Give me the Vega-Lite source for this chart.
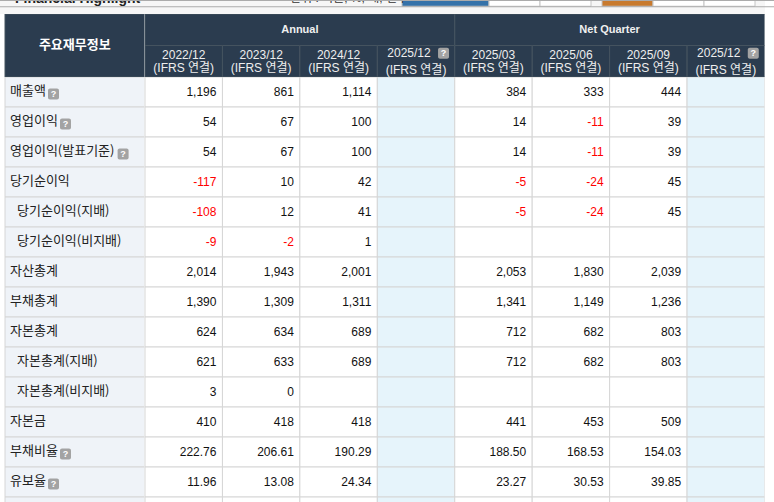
{"$schema":"https://vega.github.io/schema/vega-lite/v6.json","padding":0,"background":"#ffffff","spacing":0,"config":{"view":{"stroke":null},"scale":{"bandPaddingInner":0,"bandPaddingOuter":0},"concat":{"spacing":0},"text":{"font":"Liberation Sans, Noto Sans CJK KR"},"locale":{"number":{"decimal":".","thousands":",","grouping":[3],"currency":["$",""],"minus":"-"}}},"datasets":{"strip":[{"seg":"lead","w":15,"i":0},{"seg":"title","w":275,"i":1,"text":"Financial Highlight"},{"seg":"unit","w":112,"i":2,"text":"단위 : 억원, %, 배, 천주"},{"seg":"blue","w":87,"i":3},{"seg":"tab","w":51,"i":4},{"seg":"tab","w":51,"i":5},{"seg":"gap","w":11,"i":6},{"seg":"orange","w":51,"i":7},{"seg":"tab","w":51,"i":8},{"seg":"tab","w":51,"i":9},{"seg":"end","w":10,"i":10}],"edges":[{"band":"tab","edge":"top"},{"band":"rest","edge":"bottom"}],"groups":[{"group":"Annual"},{"group":"Net Quarter"}],"periods":[{"col":"2022/12","period":"2022/12","basis":"(IFRS 연결)","estimate":false},{"col":"2023/12","period":"2023/12","basis":"(IFRS 연결)","estimate":false},{"col":"2024/12","period":"2024/12","basis":"(IFRS 연결)","estimate":false},{"col":"2025/12 A","period":"2025/12","basis":"(IFRS 연결)","estimate":true},{"col":"2025/03","period":"2025/03","basis":"(IFRS 연결)","estimate":false},{"col":"2025/06","period":"2025/06","basis":"(IFRS 연결)","estimate":false},{"col":"2025/09","period":"2025/09","basis":"(IFRS 연결)","estimate":false},{"col":"2025/12 Q","period":"2025/12","basis":"(IFRS 연결)","estimate":true}],"labels":[{"row":"매출액","label":"매출액","start":0,"labelLen":3,"help":true},{"row":"영업이익","label":"영업이익","start":0,"labelLen":4,"help":true},{"row":"영업이익(발표기준)","label":"영업이익(발표기준)","start":0,"labelLen":8.8,"help":true},{"row":"당기순이익","label":"당기순이익","start":0,"help":false},{"row":"당기순이익(지배)","label":"당기순이익(지배)","start":0.583,"help":false},{"row":"당기순이익(비지배)","label":"당기순이익(비지배)","start":0.583,"help":false},{"row":"자산총계","label":"자산총계","start":0,"help":false},{"row":"부채총계","label":"부채총계","start":0,"help":false},{"row":"자본총계","label":"자본총계","start":0,"help":false},{"row":"자본총계(지배)","label":"자본총계(지배)","start":0.583,"help":false},{"row":"자본총계(비지배)","label":"자본총계(비지배)","start":0.583,"help":false},{"row":"자본금","label":"자본금","start":0,"help":false},{"row":"부채비율","label":"부채비율","start":0,"labelLen":4,"help":true},{"row":"유보율","label":"유보율","start":0,"labelLen":3,"help":true},{"row":"next","label":"","start":0,"help":false}],"cells":[
{"row":"매출액","col":"2022/12","value":1196},{"row":"매출액","col":"2023/12","value":861},{"row":"매출액","col":"2024/12","value":1114},{"row":"매출액","col":"2025/12 A","value":null},{"row":"매출액","col":"2025/03","value":384},{"row":"매출액","col":"2025/06","value":333},{"row":"매출액","col":"2025/09","value":444},{"row":"매출액","col":"2025/12 Q","value":null},
{"row":"영업이익","col":"2022/12","value":54},{"row":"영업이익","col":"2023/12","value":67},{"row":"영업이익","col":"2024/12","value":100},{"row":"영업이익","col":"2025/12 A","value":null},{"row":"영업이익","col":"2025/03","value":14},{"row":"영업이익","col":"2025/06","value":-11},{"row":"영업이익","col":"2025/09","value":39},{"row":"영업이익","col":"2025/12 Q","value":null},
{"row":"영업이익(발표기준)","col":"2022/12","value":54},{"row":"영업이익(발표기준)","col":"2023/12","value":67},{"row":"영업이익(발표기준)","col":"2024/12","value":100},{"row":"영업이익(발표기준)","col":"2025/12 A","value":null},{"row":"영업이익(발표기준)","col":"2025/03","value":14},{"row":"영업이익(발표기준)","col":"2025/06","value":-11},{"row":"영업이익(발표기준)","col":"2025/09","value":39},{"row":"영업이익(발표기준)","col":"2025/12 Q","value":null},
{"row":"당기순이익","col":"2022/12","value":-117},{"row":"당기순이익","col":"2023/12","value":10},{"row":"당기순이익","col":"2024/12","value":42},{"row":"당기순이익","col":"2025/12 A","value":null},{"row":"당기순이익","col":"2025/03","value":-5},{"row":"당기순이익","col":"2025/06","value":-24},{"row":"당기순이익","col":"2025/09","value":45},{"row":"당기순이익","col":"2025/12 Q","value":null},
{"row":"당기순이익(지배)","col":"2022/12","value":-108},{"row":"당기순이익(지배)","col":"2023/12","value":12},{"row":"당기순이익(지배)","col":"2024/12","value":41},{"row":"당기순이익(지배)","col":"2025/12 A","value":null},{"row":"당기순이익(지배)","col":"2025/03","value":-5},{"row":"당기순이익(지배)","col":"2025/06","value":-24},{"row":"당기순이익(지배)","col":"2025/09","value":45},{"row":"당기순이익(지배)","col":"2025/12 Q","value":null},
{"row":"당기순이익(비지배)","col":"2022/12","value":-9},{"row":"당기순이익(비지배)","col":"2023/12","value":-2},{"row":"당기순이익(비지배)","col":"2024/12","value":1},{"row":"당기순이익(비지배)","col":"2025/12 A","value":null},{"row":"당기순이익(비지배)","col":"2025/03","value":null},{"row":"당기순이익(비지배)","col":"2025/06","value":null},{"row":"당기순이익(비지배)","col":"2025/09","value":null},{"row":"당기순이익(비지배)","col":"2025/12 Q","value":null},
{"row":"자산총계","col":"2022/12","value":2014},{"row":"자산총계","col":"2023/12","value":1943},{"row":"자산총계","col":"2024/12","value":2001},{"row":"자산총계","col":"2025/12 A","value":null},{"row":"자산총계","col":"2025/03","value":2053},{"row":"자산총계","col":"2025/06","value":1830},{"row":"자산총계","col":"2025/09","value":2039},{"row":"자산총계","col":"2025/12 Q","value":null},
{"row":"부채총계","col":"2022/12","value":1390},{"row":"부채총계","col":"2023/12","value":1309},{"row":"부채총계","col":"2024/12","value":1311},{"row":"부채총계","col":"2025/12 A","value":null},{"row":"부채총계","col":"2025/03","value":1341},{"row":"부채총계","col":"2025/06","value":1149},{"row":"부채총계","col":"2025/09","value":1236},{"row":"부채총계","col":"2025/12 Q","value":null},
{"row":"자본총계","col":"2022/12","value":624},{"row":"자본총계","col":"2023/12","value":634},{"row":"자본총계","col":"2024/12","value":689},{"row":"자본총계","col":"2025/12 A","value":null},{"row":"자본총계","col":"2025/03","value":712},{"row":"자본총계","col":"2025/06","value":682},{"row":"자본총계","col":"2025/09","value":803},{"row":"자본총계","col":"2025/12 Q","value":null},
{"row":"자본총계(지배)","col":"2022/12","value":621},{"row":"자본총계(지배)","col":"2023/12","value":633},{"row":"자본총계(지배)","col":"2024/12","value":689},{"row":"자본총계(지배)","col":"2025/12 A","value":null},{"row":"자본총계(지배)","col":"2025/03","value":712},{"row":"자본총계(지배)","col":"2025/06","value":682},{"row":"자본총계(지배)","col":"2025/09","value":803},{"row":"자본총계(지배)","col":"2025/12 Q","value":null},
{"row":"자본총계(비지배)","col":"2022/12","value":3},{"row":"자본총계(비지배)","col":"2023/12","value":0},{"row":"자본총계(비지배)","col":"2024/12","value":null},{"row":"자본총계(비지배)","col":"2025/12 A","value":null},{"row":"자본총계(비지배)","col":"2025/03","value":null},{"row":"자본총계(비지배)","col":"2025/06","value":null},{"row":"자본총계(비지배)","col":"2025/09","value":null},{"row":"자본총계(비지배)","col":"2025/12 Q","value":null},
{"row":"자본금","col":"2022/12","value":410},{"row":"자본금","col":"2023/12","value":418},{"row":"자본금","col":"2024/12","value":418},{"row":"자본금","col":"2025/12 A","value":null},{"row":"자본금","col":"2025/03","value":441},{"row":"자본금","col":"2025/06","value":453},{"row":"자본금","col":"2025/09","value":509},{"row":"자본금","col":"2025/12 Q","value":null},
{"row":"부채비율","col":"2022/12","value":222.76},{"row":"부채비율","col":"2023/12","value":206.61},{"row":"부채비율","col":"2024/12","value":190.29},{"row":"부채비율","col":"2025/12 A","value":null},{"row":"부채비율","col":"2025/03","value":188.5},{"row":"부채비율","col":"2025/06","value":168.53},{"row":"부채비율","col":"2025/09","value":154.03},{"row":"부채비율","col":"2025/12 Q","value":null},
{"row":"유보율","col":"2022/12","value":11.96},{"row":"유보율","col":"2023/12","value":13.08},{"row":"유보율","col":"2024/12","value":24.34},{"row":"유보율","col":"2025/12 A","value":null},{"row":"유보율","col":"2025/03","value":23.27},{"row":"유보율","col":"2025/06","value":30.53},{"row":"유보율","col":"2025/09","value":39.85},{"row":"유보율","col":"2025/12 Q","value":null},
{"row":"next","col":"2022/12","value":null},{"row":"next","col":"2023/12","value":null},{"row":"next","col":"2024/12","value":null},{"row":"next","col":"2025/12 A","value":null},{"row":"next","col":"2025/03","value":null},{"row":"next","col":"2025/06","value":null},{"row":"next","col":"2025/09","value":null},{"row":"next","col":"2025/12 Q","value":null}
]},
"vconcat":[
{"width":774,"height":14,"layer":[
{"data":{"name":"strip"},"transform":[{"stack":"w","groupby":[],"sort":[{"field":"i","order":"ascending"}],"as":["x0","x1"]}],"mark":{"type":"rect","fill":"#f6f6f6","clip":true},"encoding":{"x":{"field":"x0","type":"quantitative","scale":{"domain":[0,774]},"axis":null},"x2":{"field":"x1"}}},
{"data":{"name":"strip"},"transform":[{"stack":"w","groupby":[],"sort":[{"field":"i","order":"ascending"}],"as":["x0","x1"]},{"filter":"datum.seg=='blue'||datum.seg=='orange'||datum.seg=='tab'"}],"mark":{"type":"rect","stroke":"#c4c4c4","strokeWidth":1,"clip":true},"encoding":{"x":{"field":"x0","type":"quantitative","scale":{"domain":[0,774]},"axis":null},"x2":{"field":"x1"},"y":{"datum":"tab","type":"nominal","scale":{"domain":["tab","rest"],"range":[0,12.5]},"axis":null},"fill":{"field":"seg","type":"nominal","legend":null,"scale":{"domain":["blue","orange","tab"],"range":["#3572a9","#c87a2e","#ffffff"]}}}},
{"data":{"name":"strip"},"transform":[{"stack":"w","groupby":[],"sort":[{"field":"i","order":"ascending"}],"as":["x0","x1"]},{"filter":"datum.seg=='title'"}],"mark":{"type":"text","align":"left","baseline":"alphabetic","fontWeight":"bold","fontSize":14,"dy":3,"clip":true,"color":"#222222"},"encoding":{"x":{"field":"x0","type":"quantitative","scale":{"domain":[0,774]},"axis":null},"y":{"datum":"tab","type":"nominal","bandPosition":0,"scale":{"domain":["tab","rest"],"range":[0,12.5]},"axis":null},"text":{"field":"text"}}},
{"data":{"name":"strip"},"transform":[{"stack":"w","groupby":[],"sort":[{"field":"i","order":"ascending"}],"as":["x0","x1"]},{"filter":"datum.seg=='unit'"}],"mark":{"type":"text","align":"left","baseline":"alphabetic","fontSize":12,"dy":2,"clip":true,"color":"#333333"},"encoding":{"x":{"field":"x0","type":"quantitative","scale":{"domain":[0,774]},"axis":null},"y":{"datum":"tab","type":"nominal","bandPosition":0,"scale":{"domain":["tab","rest"],"range":[0,12.5]},"axis":null},"text":{"field":"text"}}},
{"data":{"name":"edges"},"mark":{"type":"rule","stroke":"#ababab","strokeWidth":1.2,"yOffset":0.5,"clip":true},"encoding":{"y":{"field":"band","type":"nominal","bandPosition":0,"scale":{"domain":["tab","rest"],"range":[0,12.5]},"axis":null}}}
]},
{"bounds":"flush","hconcat":[
{"width":144.5,"height":63,"data":{"values":[{"title":"주요재무정보"}]},"layer":[
{"mark":{"type":"rect","fill":"#2b3c4f","stroke":"#45535f","clip":true},"encoding":{"x":{"field":"title","type":"nominal","scale":{"range":[5,144.5]},"axis":null}}},
{"mark":{"type":"text","fontWeight":"bold","fontSize":13,"color":"#ffffff","font":"Noto Sans CJK KR","yOffset":-1},"encoding":{"x":{"field":"title","type":"nominal","scale":{"range":[5,144.5]},"axis":null},"text":{"field":"title"}}}
]},
{"width":619.5,"height":63,"resolve":{"scale":{"x":"independent"}},"layer":[
{"data":{"name":"groups"},"mark":{"type":"rect","fill":"#2b3c4f","stroke":"#45535f","clip":true},"encoding":{"x":{"field":"group","type":"nominal","scale":{"domain":["Annual","Net Quarter"]},"axis":null},"y":{"datum":"group","type":"nominal","scale":{"domain":["group","period"]},"axis":null}}},
{"data":{"name":"groups"},"mark":{"type":"text","fontWeight":"bold","fontSize":11,"color":"#f0f0f0"},"encoding":{"x":{"field":"group","type":"nominal","scale":{"domain":["Annual","Net Quarter"]},"axis":null},"y":{"datum":"group","type":"nominal","scale":{"domain":["group","period"]},"axis":null},"text":{"field":"group"}}},
{"data":{"name":"periods"},"mark":{"type":"rect","fill":"#2b3c4f","stroke":"#45535f","clip":true},"encoding":{"x":{"field":"col","type":"nominal","sort":null,"scale":{"domain":["2022/12","2023/12","2024/12","2025/12 A","2025/03","2025/06","2025/09","2025/12 Q"]},"axis":null},"y":{"datum":"period","type":"nominal","scale":{"domain":["group","period"]},"axis":null}}},
{"data":{"name":"periods"},"transform":[{"filter":"!datum.estimate"}],"mark":{"type":"text","fontSize":12,"color":"#eeeeee","yOffset":-6},"encoding":{"x":{"field":"col","type":"nominal","scale":{"domain":["2022/12","2023/12","2024/12","2025/12 A","2025/03","2025/06","2025/09","2025/12 Q"]},"axis":null},"y":{"datum":"period","type":"nominal","scale":{"domain":["group","period"]},"axis":null},"text":{"field":"period"}}},
{"data":{"name":"periods"},"transform":[{"filter":"!datum.estimate"}],"mark":{"type":"text","fontSize":12,"color":"#eeeeee","yOffset":7},"encoding":{"x":{"field":"col","type":"nominal","scale":{"domain":["2022/12","2023/12","2024/12","2025/12 A","2025/03","2025/06","2025/09","2025/12 Q"]},"axis":null},"y":{"datum":"period","type":"nominal","scale":{"domain":["group","period"]},"axis":null},"text":{"field":"basis"}}},
{"data":{"name":"periods"},"transform":[{"filter":"datum.estimate"}],"mark":{"type":"text","fontSize":12,"color":"#eeeeee","yOffset":-8,"xOffset":-7},"encoding":{"x":{"field":"col","type":"nominal","scale":{"domain":["2022/12","2023/12","2024/12","2025/12 A","2025/03","2025/06","2025/09","2025/12 Q"]},"axis":null},"y":{"datum":"period","type":"nominal","scale":{"domain":["group","period"]},"axis":null},"text":{"field":"period"}}},
{"data":{"name":"periods"},"transform":[{"filter":"datum.estimate"}],"mark":{"type":"text","fontSize":12,"color":"#eeeeee","yOffset":9},"encoding":{"x":{"field":"col","type":"nominal","scale":{"domain":["2022/12","2023/12","2024/12","2025/12 A","2025/03","2025/06","2025/09","2025/12 Q"]},"axis":null},"y":{"datum":"period","type":"nominal","scale":{"domain":["group","period"]},"axis":null},"text":{"field":"basis"}}},
{"data":{"name":"periods"},"transform":[{"filter":"datum.estimate"}],"mark":{"type":"rect","width":11,"height":11,"cornerRadius":2,"fill":"#a3a3a3","xOffset":27.5,"yOffset":-8},"encoding":{"x":{"field":"col","type":"nominal","scale":{"domain":["2022/12","2023/12","2024/12","2025/12 A","2025/03","2025/06","2025/09","2025/12 Q"]},"axis":null},"y":{"datum":"period","type":"nominal","scale":{"domain":["group","period"]},"axis":null}}},
{"data":{"name":"periods"},"transform":[{"filter":"datum.estimate"}],"mark":{"type":"text","text":"?","fontSize":9,"fontWeight":"bold","color":"#ffffff","xOffset":27.5,"yOffset":-8},"encoding":{"x":{"field":"col","type":"nominal","scale":{"domain":["2022/12","2023/12","2024/12","2025/12 A","2025/03","2025/06","2025/09","2025/12 Q"]},"axis":null},"y":{"datum":"period","type":"nominal","scale":{"domain":["group","period"]},"axis":null}}}
]}
]},
{"bounds":"flush","hconcat":[
{"width":144.5,"height":425,"data":{"name":"labels"},"resolve":{"scale":{"x":"independent"}},"layer":[
{"mark":{"type":"rect","fill":"#eff3f8","stroke":"#d6d6d6","clip":true},"encoding":{"x":{"datum":"label","type":"nominal","scale":{"domain":["label"],"range":[5,144.5]},"axis":null},"y":{"field":"row","type":"nominal","sort":null,"scale":{"range":[0,450]},"axis":null}}},
{"transform":[{"filter":"datum.label!=''"}],"mark":{"type":"text","align":"left","fontSize":13,"font":"Noto Sans CJK KR","color":"#222222","yOffset":-1},"encoding":{"x":{"field":"start","type":"quantitative","scale":{"domain":[-0.8333,11.2083]},"axis":null},"y":{"field":"row","type":"nominal","sort":null,"scale":{"range":[0,450]},"axis":null},"text":{"field":"label"}}},
{"transform":[{"filter":"datum.help"}],"mark":{"type":"rect","width":11,"height":11,"cornerRadius":2,"fill":"#a3a3a3","xOffset":7.5,"yOffset":2},"encoding":{"x":{"field":"labelLen","type":"quantitative","scale":{"domain":[-0.8333,11.2083]},"axis":null},"y":{"field":"row","type":"nominal","sort":null,"scale":{"range":[0,450]},"axis":null}}},
{"transform":[{"filter":"datum.help"}],"mark":{"type":"text","text":"?","fontSize":9,"fontWeight":"bold","color":"#ffffff","xOffset":7.5,"yOffset":2},"encoding":{"x":{"field":"labelLen","type":"quantitative","scale":{"domain":[-0.8333,11.2083]},"axis":null},"y":{"field":"row","type":"nominal","sort":null,"scale":{"range":[0,450]},"axis":null}}}
]},
{"width":619.5,"height":425,"data":{"name":"cells"},"encoding":{"x":{"field":"col","type":"nominal","sort":null,"scale":{"domain":["2022/12","2023/12","2024/12","2025/12 A","2025/03","2025/06","2025/09","2025/12 Q"]},"axis":null},"y":{"field":"row","type":"nominal","sort":null,"scale":{"range":[0,450]},"axis":null}},"layer":[
{"mark":{"type":"rect","stroke":"#d6d6d6","clip":true},"encoding":{"fill":{"condition":{"test":"indexof(datum.col,'2025/12')==0","value":"#e6f4fb"},"value":"#ffffff"}}},
{"transform":[{"filter":"isValid(datum.value)&&datum.row!='부채비율'&&datum.row!='유보율'"}],"mark":{"type":"text","align":"right","fontSize":12,"dx":-6},"encoding":{"x":{"field":"col","type":"nominal","sort":null,"bandPosition":1,"scale":{"domain":["2022/12","2023/12","2024/12","2025/12 A","2025/03","2025/06","2025/09","2025/12 Q"]},"axis":null},"text":{"field":"value","type":"quantitative","format":",.0f"},"color":{"condition":{"test":"datum.value<0","value":"#ff0000"},"value":"#111111"}}},
{"transform":[{"filter":"isValid(datum.value)&&(datum.row=='부채비율'||datum.row=='유보율')"}],"mark":{"type":"text","align":"right","fontSize":12,"dx":-6},"encoding":{"x":{"field":"col","type":"nominal","sort":null,"bandPosition":1,"scale":{"domain":["2022/12","2023/12","2024/12","2025/12 A","2025/03","2025/06","2025/09","2025/12 Q"]},"axis":null},"text":{"field":"value","type":"quantitative","format":",.2f"},"color":{"value":"#111111"}}}
]}
]}
]}
